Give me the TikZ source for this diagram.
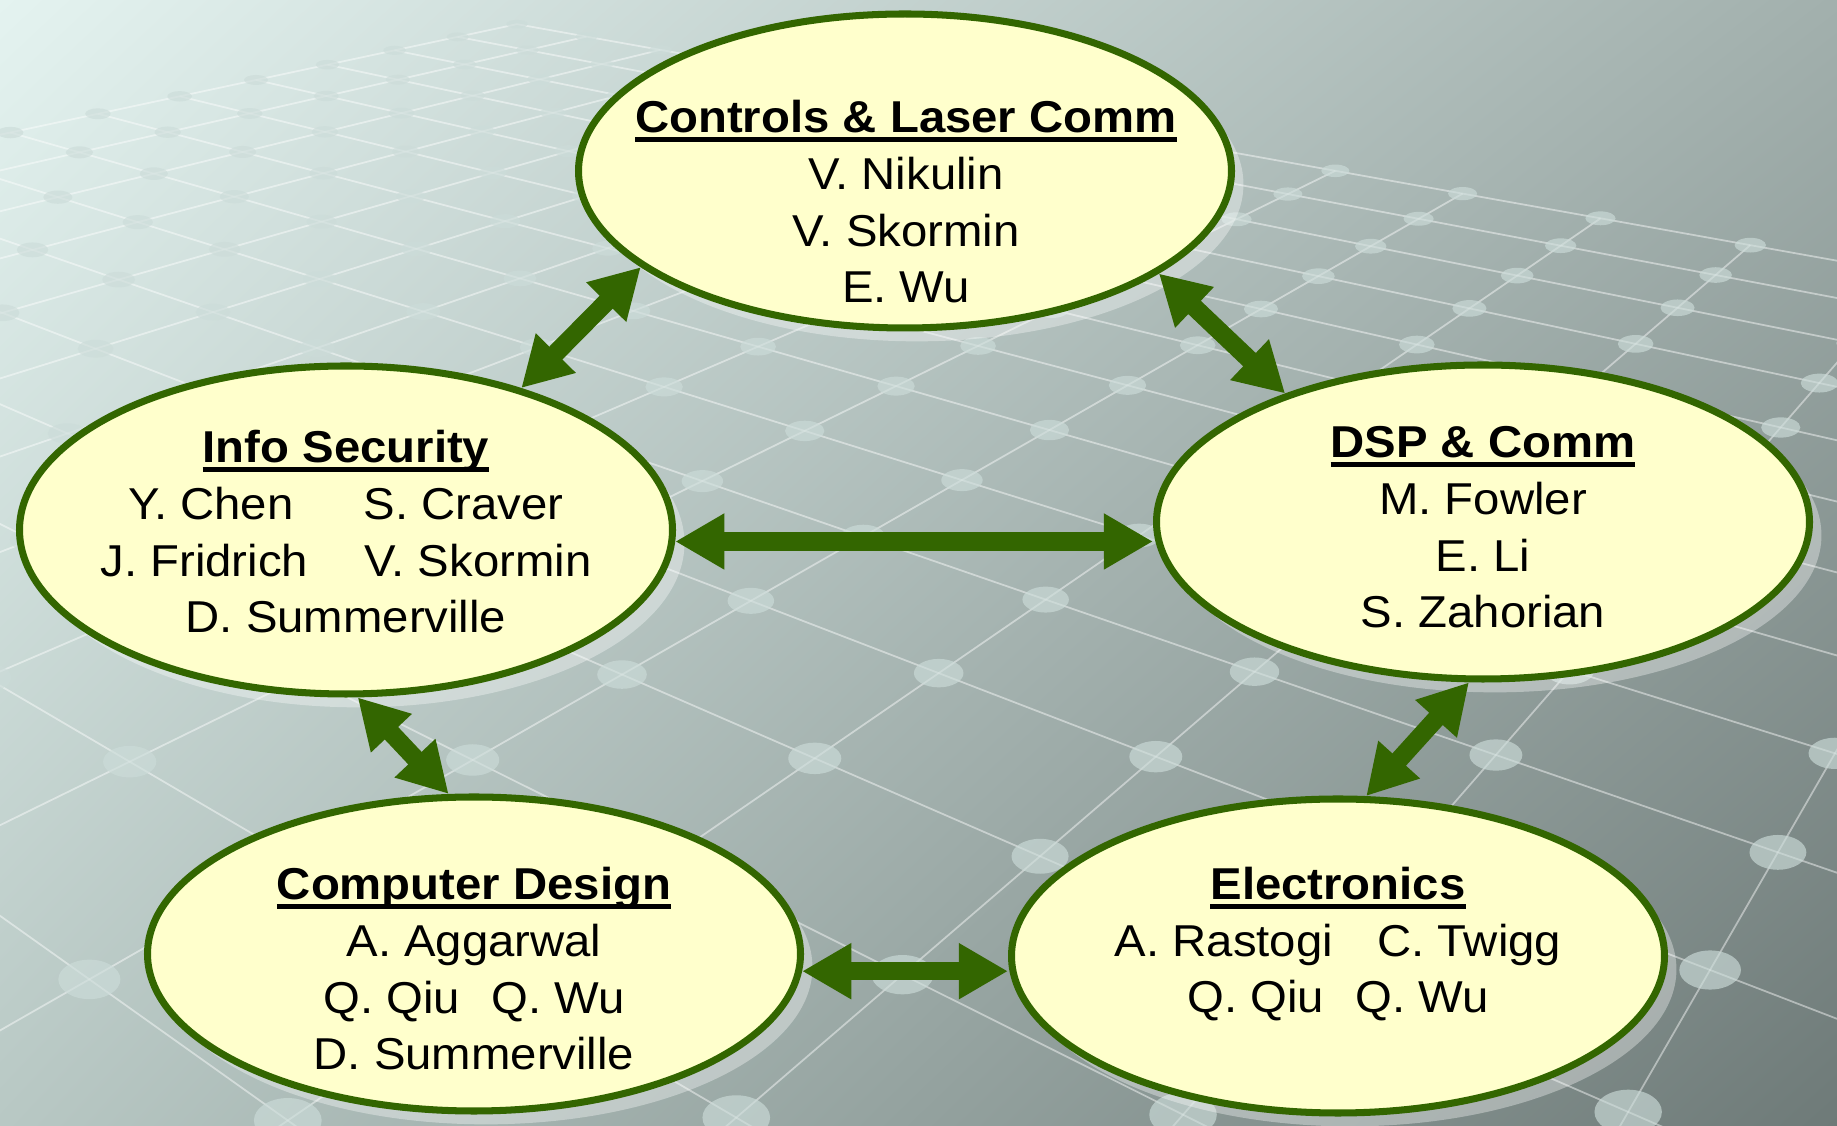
\documentclass[tikz,border=0pt]{standalone}
\usepackage{fontspec}
\setmainfont[FakeStretch=1.06]{Liberation Sans}
\usetikzlibrary{arrows.meta,shapes.geometric,shadows,shadings}

\definecolor{leaf}{HTML}{336600}
\definecolor{cream}{HTML}{FFFFCC}
\definecolor{bgtl}{HTML}{E4F3F0}
\definecolor{bgtr}{HTML}{A2B0AD}
\definecolor{bgbl}{HTML}{B8C8C4}
\definecolor{bgbr}{HTML}{6E7A78}
\definecolor{knob}{HTML}{CCDCD9}

% bold heading with the rule just under the baseline
\newcommand{\grouphead}[1]{\setbox0\hbox{\bfseries #1}\rlap{\rule[-2.8pt]{\wd0}{1.35pt}}\box0}

% floor point (a,b) in perspective -> \fx,\fy (and depth factor \fw)
\newcommand{\floorpt}[2]{%
  \pgfmathsetmacro{\fw}{1+0.0329*(#1)-0.0323*(#2)}%
  \pgfmathsetmacro{\fx}{(256+82.25*(#1)+59.76*(#2))/\fw}%
  \pgfmathsetmacro{\fy}{(80-13.16*(#1)+12.92*(#2))/\fw}}

\tikzset{
  team/.style={ellipse, draw=leaf, line width=2pt, fill=cream,
    minimum width=65.3mm, minimum height=31.4mm, inner sep=0pt,
    drop shadow={shadow xshift=3.4pt, shadow yshift=-3.8pt, fill=white, opacity=0.35}},
  % base anchor = baseline of the last line
  members/.style={align=center, anchor=base, font=\fontsize{12.7}{16.2}\selectfont},
  link/.style={draw=leaf, line width=5.2pt,
    {Triangle[length=14pt,width=15pt]}-{Triangle[length=14pt,width=15pt]}},
  floorline/.style={white, opacity=0.45, line width=0.5pt},
  floorknob/.style={fill=knob, opacity=0.65}
}

\begin{document}
\begin{tikzpicture}[x=0.1mm, y=-0.1mm]
  % backdrop
  \shade[upper left=bgtl, upper right=bgtr, lower left=bgbl, lower right=bgbr]
    (0,0) rectangle (1837,1126);
  \useasboundingbox (0,0) rectangle (1837,1126);

  % floor grid with knobs
  \begin{scope}
    \clip (0,0) rectangle (1837,1126);
    \foreach \a in {-12,...,4} {
      \floorpt{\a}{0}
      \coordinate (g0) at (\fx,\fy);
      \floorpt{\a}{16}
      \draw[floorline] (g0) -- (\fx,\fy);
    }
    \foreach \b in {0,...,16} {
      \floorpt{-12}{\b}
      \coordinate (g0) at (\fx,\fy);
      \floorpt{4}{\b}
      \draw[floorline] (g0) -- (\fx,\fy);
    }
    \foreach \a in {-12,...,4}
      \foreach \b in {0,...,16} {
        \floorpt{\a}{\b}
        \pgfmathsetmacro{\rx}{12/pow(\fw,0.9)}
        \pgfmathsetmacro{\ry}{5/pow(\fw,1.3)}
        \fill[floorknob] (\fx,\fy) ellipse [x radius=\rx, y radius=\ry];
      }
  \end{scope}

  % the five groups
  \node[team] (ctl) at (905,171) {};
  \node[team, minimum height=32.8mm] (sec) at (346,530) {};
  \node[team] (dsp) at (1483,522) {};
  \node[team] (cpu) at (474,954) {};
  \node[team] (elc) at (1338,956) {};

  \node[members] (ctltxt) at (906,303)
    {\grouphead{Controls \& Laser Comm}\\V. Nikulin\\V. Skormin\\E. Wu};
  \node[members] (sectxt) at (346,633)
    {\grouphead{Info Security}\\Y. Chen\hspace{20pt}S. Craver\\
     J. Fridrich\hspace{16pt}V. Skormin\\D. Summerville};
  \node[members] (dsptxt) at (1483,628)
    {\grouphead{DSP \& Comm}\\M. Fowler\\E. Li\\S. Zahorian};
  \node[members] (cputxt) at (474,1070)
    {\grouphead{Computer Design}\\A. Aggarwal\\Q. Qiu\hspace{9pt}Q. Wu\\D. Summerville};
  \node[members] (elctxt) at (1338,1013)
    {\grouphead{Electronics}\\A. Rastogi\hspace{12.5pt}C. Twigg\\Q. Qiu\hspace{9pt}Q. Wu};

  % links
  \draw[link] (ctl.200.7) -- (sec.39.1);
  \draw[link] (ctl.338.3) -- (dsp.147.3);
  \draw[link] (sec.-2.5) -- (sec.-2.5 -| dsp.west);
  \draw[link] (sec.274) -- (cpu.99.9);
  \draw[link] (dsp.265.5) -- (elc.80.2);
  \draw[link] (cpu.357.8) -- (cpu.357.8 -| elc.west);
\end{tikzpicture}
\end{document}
